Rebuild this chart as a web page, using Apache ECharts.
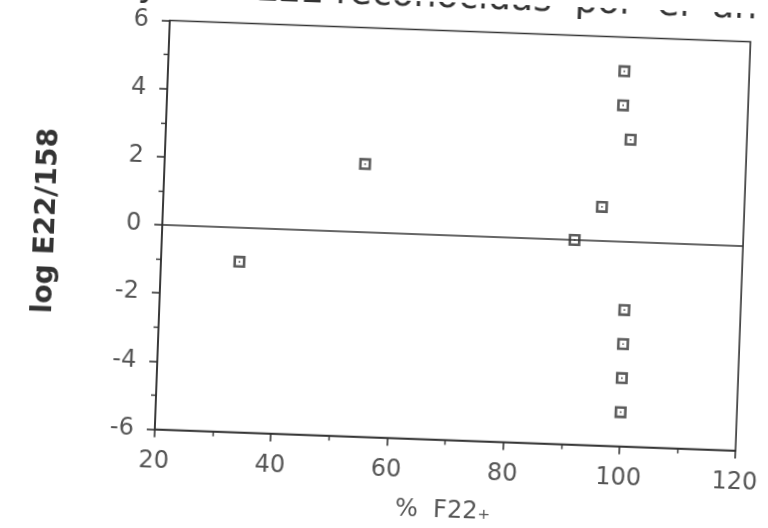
<!DOCTYPE html>
<html><head><meta charset="utf-8">
<script src="https://cdn.jsdelivr.net/npm/echarts@6/dist/echarts.min.js"></script>
<style>
html,body{margin:0;padding:0;background:#fff;overflow:hidden;width:768px;height:528px}
#main{width:768px;height:528px;transform:rotate(2.1deg);transform-origin:384px 264px}
</style>
</head><body><div id="main"></div>
<script>
// data
const xValues = [98.5, 98.5, 100, 95.5, 91, 100, 100, 100, 100, 54.5, 33.5];
const yValues = [5, 4, 3, 1, 0, -2, -3, -4, -5, 2, -1];
const xTicks = [20, 40, 60, 80, 100, 120];
const yTicks = [-6, -4, -2, 0, 2, 4, 6];
const refLineY = 0;
const titleLeftText = 'y';
const titleText = 'E22 reconocidas  por  el  an';
const xName = '%  F22\u208A';
const yName = 'log E22/158';

const points = xValues.map((x, i) => [x, yValues[i]]);
const ink = '#333';
const font = 'DejaVu Sans';
const boxSymbol = 'path://M0,0H12V12H0Z M2.6,2.6V9.4H9.4V2.6Z M5.2,5.2H6.8V6.8H5.2Z';

const chart = echarts.init(document.getElementById('main'), null, {renderer: 'canvas'});
chart.setOption({
  animation: false,
  backgroundColor: '#fff',
  title: [
    {text: titleLeftText, left: 128, top: -22, padding: 0,
     textStyle: {fontFamily: font, fontSize: 36, fontWeight: 'normal', color: ink}},
    {text: titleText, left: 246, top: -22, padding: 0,
     textStyle: {fontFamily: font, fontSize: 36, fontWeight: 'normal', color: ink}}
  ],
  grid: {left: 161, right: 18, top: 28.5, bottom: 90.5, show: true,
         borderColor: ink, borderWidth: 1.6, containLabel: false},
  xAxis: {
    type: 'value',
    min: xTicks[0], max: xTicks[xTicks.length - 1], interval: xTicks[1] - xTicks[0],
    name: xName, nameLocation: 'middle', nameGap: 59,
    nameTextStyle: {fontFamily: font, fontSize: 24, color: '#555'},
    axisLine: {show: true, onZero: false, lineStyle: {color: ink, width: 1.6}},
    axisTick: {show: true, inside: false, length: 8, lineStyle: {color: ink, width: 1.6}},
    minorTick: {show: true, splitNumber: 2, length: 5, lineStyle: {color: ink, width: 1.4}},
    splitLine: {show: false},
    axisLabel: {fontFamily: font, fontSize: 24, color: '#555', margin: 20}
  },
  yAxis: {
    type: 'value',
    min: yTicks[0], max: yTicks[yTicks.length - 1], interval: yTicks[1] - yTicks[0],
    name: yName, nameLocation: 'middle', nameGap: 101,
    nameTextStyle: {fontFamily: font, fontSize: 28, fontWeight: 'bold', color: ink},
    axisLine: {show: true, onZero: false, lineStyle: {color: ink, width: 1.6}},
    axisTick: {show: true, inside: false, length: 8, lineStyle: {color: ink, width: 1.6}},
    minorTick: {show: true, splitNumber: 2, length: 5, lineStyle: {color: ink, width: 1.4}},
    splitLine: {show: false},
    axisLabel: {fontFamily: font, fontSize: 24, color: '#555', margin: 21}
  },
  series: [{
    type: 'scatter',
    data: points,
    symbol: boxSymbol,
    symbolSize: 12,
    itemStyle: {color: ink},
    markLine: {
      silent: true, symbol: ['none', 'none'],
      label: {show: false},
      lineStyle: {color: ink, width: 1.6, type: 'solid'},
      data: [{yAxis: refLineY}]
    }
  }]
});
</script>
</body></html>
